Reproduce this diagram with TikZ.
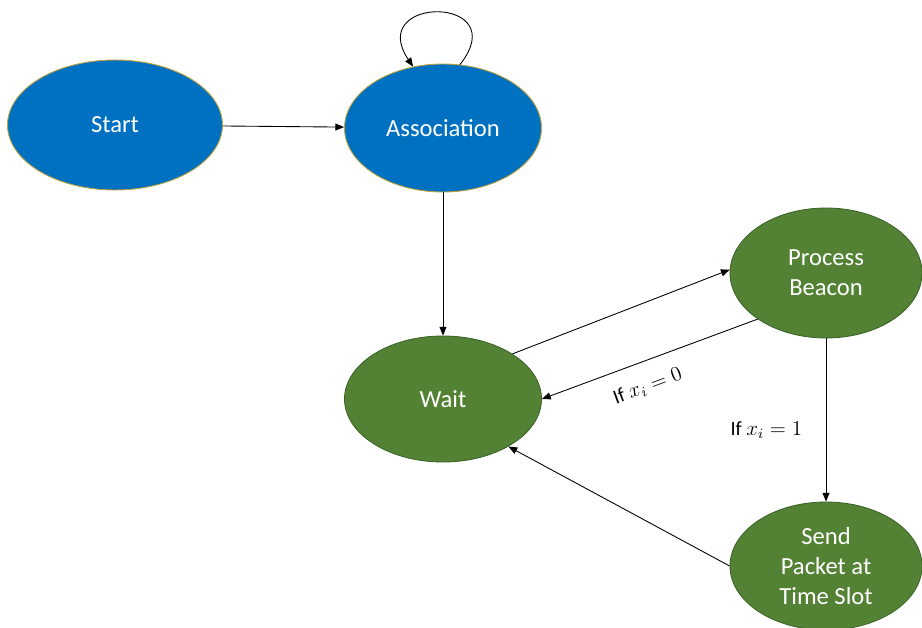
\documentclass[tikz,border=0pt]{standalone}
\usepackage{fontspec}
\setmainfont{Carlito}
\usetikzlibrary{shapes.geometric,arrows.meta}

\definecolor{stateblue}{RGB}{0,112,192}
\definecolor{stategreen}{RGB}{84,130,53}
\definecolor{blueline}{RGB}{190,160,60}
\definecolor{greenline}{RGB}{60,100,40}

\begin{document}
\begin{tikzpicture}[x=0.02cm,y=-0.02cm,
  % ---- one style for every state, colours set per state
  state/.style={ellipse, line width=0.5pt, text=white, align=center,
    font=\fontsize{14}{17}\selectfont},
  bluestate/.style={state, fill=stateblue, draw=blueline},
  greenstate/.style={state, fill=stategreen, draw=greenline},
  link/.style={-{Triangle[length=5pt,width=4pt]}, line width=0.5pt},
  cond/.style={font=\fontsize{11.5}{14}\selectfont}]

\useasboundingbox (0,0) rectangle (922,628);

% ---- states
\node[bluestate, minimum width=4.3cm, minimum height=2.6cm] (start) at (115,125) {Start};
\node[bluestate, minimum width=3.94cm, minimum height=2.56cm] (assoc) at (443,128) {Association};
\node[greenstate, minimum width=3.94cm, minimum height=2.52cm] (wait) at (443,399) {Wait};
\node[greenstate, minimum width=3.84cm, minimum height=2.6cm] (beacon) at (826,273) {Process\\Beacon};
\node[greenstate, minimum width=3.84cm, minimum height=2.56cm] (send) at (826,566) {Send\\Packet at\\Time Slot};

% ---- transitions
\draw[link] (start) -- (assoc);
\draw[link] (assoc.75) .. controls (515,-5) and (365,-5) .. (assoc.116); % self loop
\draw[link] (assoc) -- (wait);
\draw[link] (wait.33) -- (beacon.178);
\draw[link] (beacon.214) -- node[cond, pos=0.55, sloped, below=6pt] {If $x_i=0$} (wait.0);
\draw[link] (beacon) -- node[cond, pos=0.56, left=10pt] {If $x_i=1$} (send);
\draw[link] (send.180) -- (wait.324);

\end{tikzpicture}
\end{document}
